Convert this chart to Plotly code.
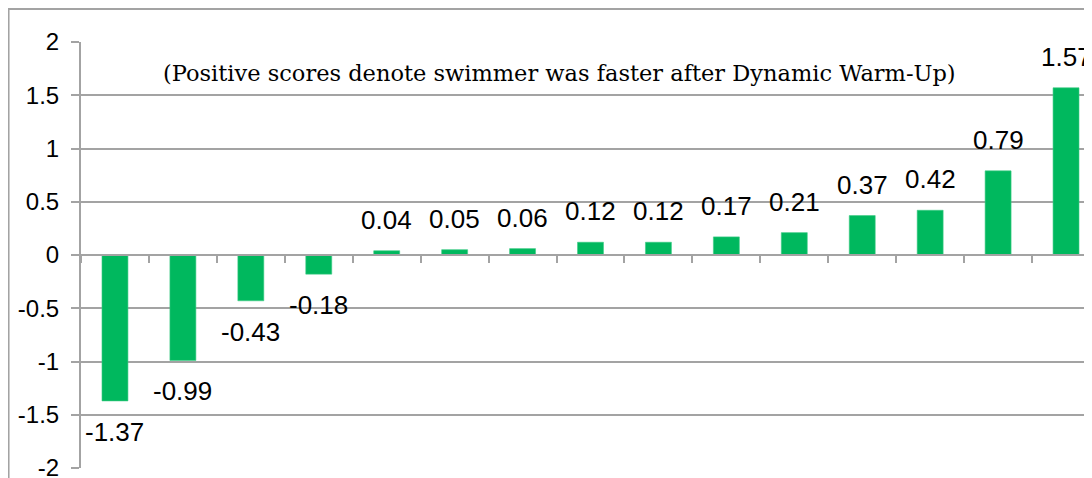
import plotly.graph_objects as go

categories = [str(i) for i in range(1, 16)]
values = [-1.37, -0.99, -0.43, -0.18, 0.04, 0.05, 0.06, 0.12, 0.12, 0.17, 0.21, 0.37, 0.42, 0.79, 1.57]
value_labels = ["-1.37", "-0.99", "-0.43", "-0.18", "0.04", "0.05", "0.06", "0.12", "0.12",
                "0.17", "0.21", "0.37", "0.42", "0.79", "1.57"]
y_tick_vals = [2, 1.5, 1, 0.5, 0, -0.5, -1, -1.5, -2]
y_tick_text = ["2", "1.5", "1", "0.5", "0", "-0.5", "-1", "-1.5", "-2"]
note = "(Positive scores denote swimmer was faster after Dynamic Warm-Up)"

GREEN = "#00B85E"
GRID = "#A3A3A3"

fig = go.Figure()
fig.add_trace(go.Bar(
    x=categories, y=values,
    marker=dict(color=GREEN, line=dict(color="#3CCB85", width=0.6)),
    showlegend=False, hoverinfo="skip",
))

annotations = []
for i, (v, t) in enumerate(zip(values, value_labels)):
    annotations.append(dict(
        x=i, y=v, xref="x", yref="y", text=t, showarrow=False,
        yshift=31 if v >= 0 else -31, yanchor="middle", xanchor="center",
        font=dict(family="Liberation Sans, Arial", size=26, color="black"),
    ))
annotations.append(dict(
    x=0.470, y=0.927, xref="paper", yref="paper", text=note, showarrow=False,
    xanchor="center", yanchor="middle",
    font=dict(family="DejaVu Serif, serif", size=22.5, color="black"),
))

fig.update_layout(
    width=1092, height=478,
    margin=dict(l=73, r=0, t=34, b=18),
    paper_bgcolor="white", plot_bgcolor="white",
    bargap=0.618,
    annotations=annotations,
    shapes=[dict(type="rect", xref="paper", yref="paper",
                 x0=-0.0711, x1=1.05, y0=-0.1, y1=1.0775,
                 line=dict(color=GRID, width=2), fillcolor="rgba(0,0,0,0)", layer="below")],
    xaxis=dict(
        type="category", range=[-0.5, 14.5], anchor="free", position=0.5,
        showline=True, linecolor=GRID, linewidth=2,
        ticks="outside", tickson="boundaries", ticklen=7, tickcolor=GRID, tickwidth=2,
        showticklabels=False, showgrid=False, zeroline=False,
    ),
    yaxis=dict(
        range=[-2, 2], tickvals=y_tick_vals, ticktext=y_tick_text,
        showline=True, linecolor=GRID, linewidth=2,
        ticks="outside", ticklen=8, tickcolor=GRID, tickwidth=2,
        ticklabelstandoff=7,
        showgrid=True, gridcolor=GRID, gridwidth=2, zeroline=False,
        tickfont=dict(family="Liberation Sans, Arial", size=24, color="black"),
    ),
)

fig.write_html("out.html")
